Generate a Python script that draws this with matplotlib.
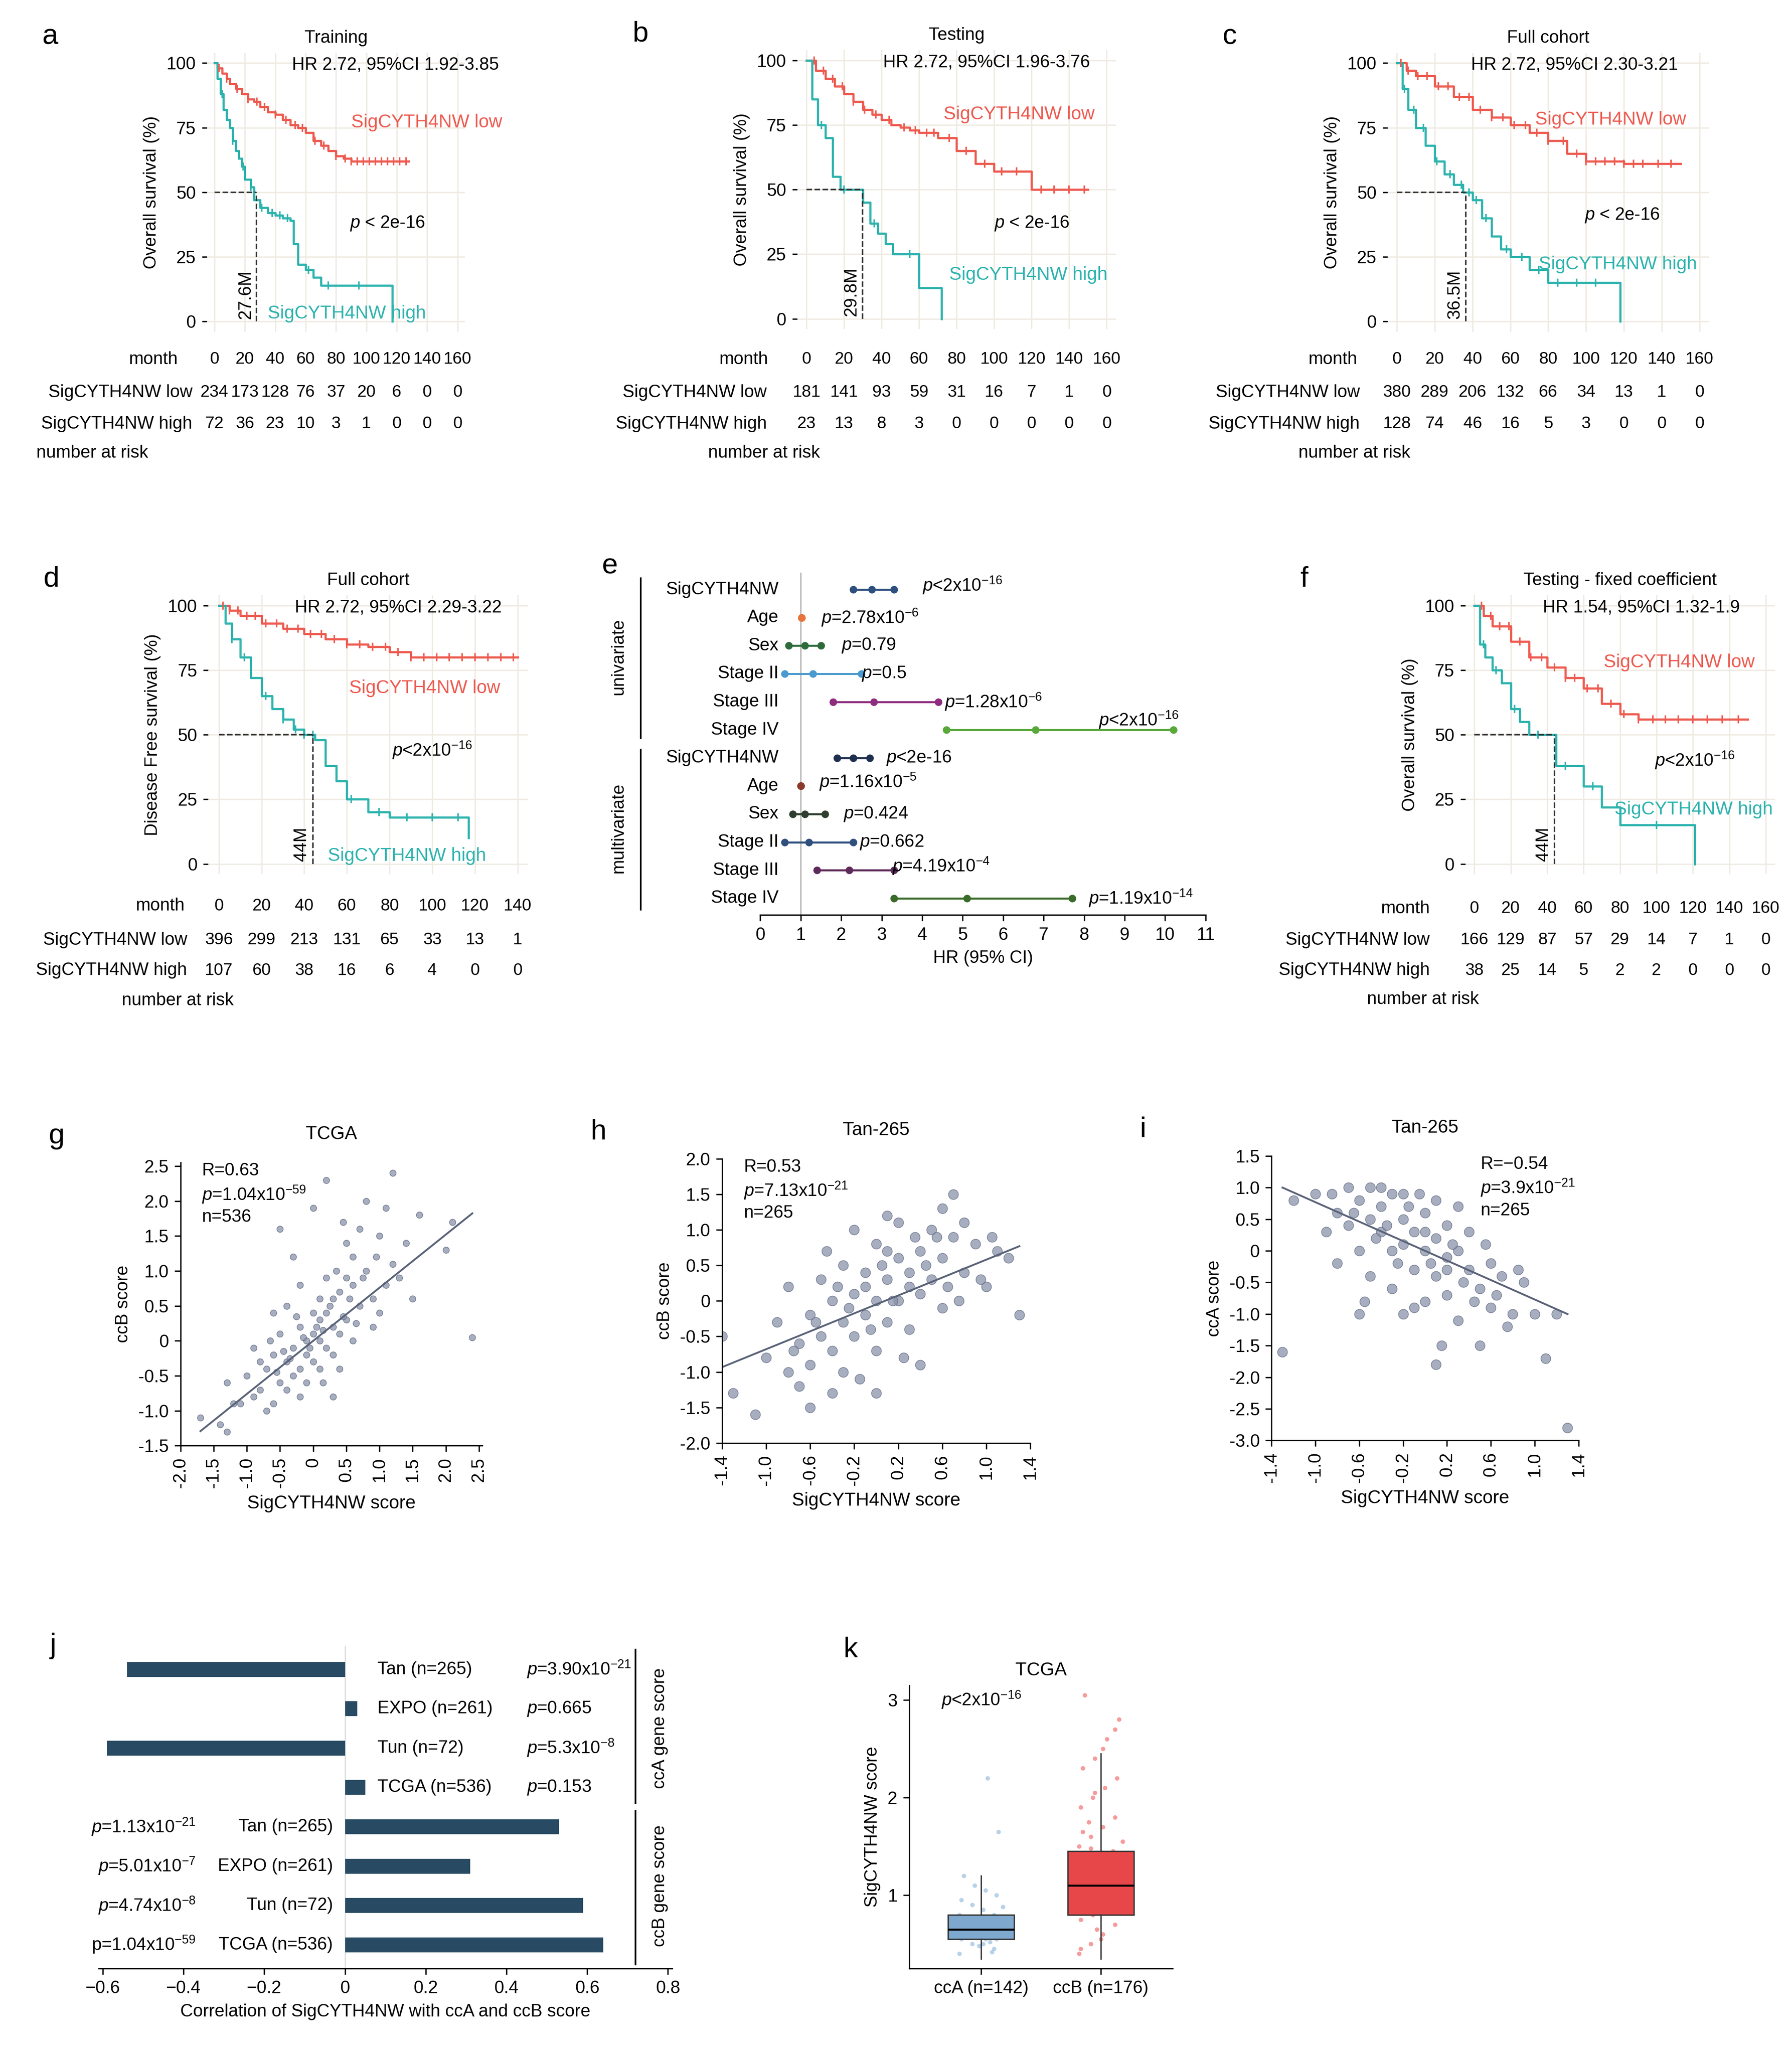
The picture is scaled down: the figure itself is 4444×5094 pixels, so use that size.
import numpy as np
import matplotlib
matplotlib.use('Agg')
import matplotlib.pyplot as plt
from matplotlib.transforms import blended_transform_factory as btf

plt.rcParams['font.family'] = ['Arial', 'Liberation Sans', 'DejaVu Sans']
plt.rcParams['mathtext.fontset'] = 'custom'
plt.rcParams['mathtext.it'] = 'Liberation Sans:italic'
plt.rcParams['mathtext.rm'] = 'Liberation Sans'

W, H = 1360.0, 1560.0
fig = plt.figure(figsize=(4444/300, 5094/300), dpi=300)
RED = '#EE5A4F'; TEAL = '#2DB3AE'; FS = 10.5

def add_ax(x0, y0, x1, y1):
    return fig.add_axes([x0/W, 1-y1/H, (x1-x0)/W, (y1-y0)/H])

def ftext(x, y, s, **kw):
    fig.text(x/W, 1-y/H, s, **kw)

# ---------------- KM data ----------------
months_a = [0, 20, 40, 60, 80, 100, 120, 140, 160]
a_low_t = [0,2,5,8,10,14,18,22,26,30,35,40,45,50,55,60,65,70,75,80,85,90,95,128]
a_low_s = [100,98,96,94,92,90,88,86,85,83,81,80,78,76,75,73,70,68,66,64,63,62,62,62]
a_high_t = [0,2,4,6,8,10,12,14,16,18,20,24,26,30,35,40,45,50,52,55,60,65,70,117,117]
a_high_s = [100,94,88,82,78,75,70,66,63,60,55,52,47,44,42,41,40,39,30,22,20,17,14,14,0]
a_low_c = [3,8,15,22,28,33,40,47,53,58,66,72,80,86,90,94,98,102,106,110,114,118,122,126]
a_high_c = [5,12,19,24,31,38,43,48,62,75,95]
a_risk_low = [234,173,128,76,37,20,6,0,0]
a_risk_high = [72,36,23,10,3,1,0,0,0]

b_low_t = [0,5,10,15,20,25,30,35,40,45,50,55,60,65,70,80,90,100,110,120,150]
b_low_s = [100,96,93,90,87,84,81,79,77,75,74,73,72,72,70,65,60,57,57,50,50]
b_high_t = [0,3,6,10,14,18,22,26,30,34,38,42,46,50,60,70,72]
b_high_s = [100,85,75,70,55,50,50,50,45,37,33,29,25,25,12,12,0]
b_low_c = [4,9,14,19,25,31,37,44,52,58,64,68,76,85,95,104,112,125,132,140,148]
b_high_c = [8,20,36,55]
b_risk_low = [181,141,93,59,31,16,7,1,0]
b_risk_high = [23,13,8,3,0,0,0,0,0]

c_low_t = [0,5,10,20,30,40,50,60,70,80,90,100,120,150]
c_low_s = [100,97,95,91,87,82,79,76,73,70,65,62,61,61]
c_high_t = [0,3,6,10,15,20,25,30,35,40,45,50,55,60,70,80,90,117,118]
c_high_s = [100,90,82,75,68,62,57,53,50,47,40,33,28,25,20,15,15,15,0]
c_low_c = [2,6,11,16,22,27,33,38,44,50,56,62,68,74,80,88,95,100,105,110,115,120,125,130,138,145]
c_high_c = [4,9,14,21,28,34,38,42,47,58,66,75,85,95,105]
c_risk_low = [380,289,206,132,66,34,13,1,0]
c_risk_high = [128,74,46,16,5,3,0,0,0]

months_d = [0, 20, 40, 60, 80, 100, 120, 140]
d_low_t = [0,5,10,20,30,40,50,60,70,80,90,100,110,140]
d_low_s = [100,98,96,93,91,89,87,85,84,82,80,80,80,80]
d_high_t = [0,3,6,10,15,20,25,30,35,40,45,50,55,60,70,80,90,115,117]
d_high_s = [100,93,87,80,72,65,60,56,52,50,48,38,32,25,20,18,18,18,10]
d_low_c = [2,5,9,13,17,22,27,32,37,43,48,54,60,66,72,78,84,90,96,102,108,114,120,126,132,138]
d_high_c = [6,12,22,30,36,40,44,62,75,88,100,112]
d_risk_low = [396,299,213,131,65,33,13,1]
d_risk_high = [107,60,38,16,6,4,0,0]

f_low_t = [0,5,10,20,30,40,50,60,70,80,90,100,150]
f_low_s = [100,96,92,86,80,76,72,68,62,58,56,56,56]
f_high_t = [0,3,6,10,15,20,25,30,40,45,55,60,70,80,95,120,121]
f_high_s = [100,85,80,75,70,60,55,50,50,38,38,30,22,15,15,15,0]
f_low_c = [4,9,14,19,25,31,37,44,50,55,62,68,75,82,90,98,105,112,120,128,136,145]
f_high_c = [5,12,22,35,50,65,100]
f_risk_low = [166,129,87,57,29,14,7,1,0]
f_risk_high = [38,25,14,5,2,2,0,0,0]

def step_y(ts, ss, t):
    idx = np.searchsorted(ts, t, side='right') - 1
    return ss[max(idx, 0)]

def km_panel(box, months, lt, ls, ht, hs, lc, hc, rl, rh, title, hr, hrx, ptxt, ppos,
             lowpos, highpos, med, medlabel, ylabel, letter, rowx, rowy):
    ax = add_ax(*box)
    ax.set_facecolor('white')
    ax.grid(True, color='#EFEBE2', lw=0.8)
    for s in ax.spines.values(): s.set_visible(False)
    ax.step(lt, ls, where='post', color=RED, lw=1.3)
    ax.step(ht, hs, where='post', color=TEAL, lw=1.3)
    ax.plot(lc, [step_y(lt, ls, c) for c in lc], '|', color=RED, ms=5, mew=0.9)
    ax.plot(hc, [step_y(ht, hs, c) for c in hc], '|', color=TEAL, ms=5, mew=0.9)
    ax.set_xlim(months[0]-5, months[-1]+5)
    ax.set_ylim(-4, 104)
    ax.set_yticks([0,25,50,75,100])
    ax.set_xticks(months)
    ax.set_xticklabels([])
    ax.tick_params(axis='x', length=0)
    ax.tick_params(axis='y', labelsize=FS, length=3)
    ax.set_ylabel(ylabel, fontsize=FS)
    ax.set_title(title, fontsize=FS, pad=6)
    ax.plot([0, med], [50, 50], ls='--', color='#333333', lw=0.9)
    ax.plot([med, med], [0, 50], ls='--', color='#333333', lw=0.9)
    ax.text(med-1.5, 1, medlabel, rotation=90, ha='right', va='bottom', fontsize=FS)
    ax.text(hrx, 0.985, hr, transform=ax.transAxes, fontsize=FS, va='top')
    ax.text(*lowpos, 'SigCYTH4NW low', color=RED, fontsize=FS+0.5, va='center')
    ax.text(*highpos, 'SigCYTH4NW high', color=TEAL, fontsize=FS+0.5, va='center')
    ax.text(*ppos, ptxt, fontsize=FS, va='center')
    tr = btf(ax.transData, fig.transFigure)
    y0, y1, y2, y3 = rowy
    for m, a, b in zip(months, rl, rh):
        ax.text(m, 1-y0/H, str(m), transform=tr, ha='center', va='center', fontsize=FS-0.5)
        ax.text(m, 1-y1/H, str(a), transform=tr, ha='center', va='center', fontsize=FS-0.5)
        ax.text(m, 1-y2/H, str(b), transform=tr, ha='center', va='center', fontsize=FS-0.5)
    ftext(rowx[0], y0, 'month', ha='right', va='center', fontsize=FS)
    ftext(rowx[1], y1, 'SigCYTH4NW low', ha='right', va='center', fontsize=FS)
    ftext(rowx[1], y2, 'SigCYTH4NW high', ha='right', va='center', fontsize=FS)
    ftext(rowx[2], y3, 'number at risk', ha='center', va='center', fontsize=FS)
    ftext(box[0]-125, box[1]-12, letter, fontsize=17, va='center')
    return ax

P16 = r'$p$ < 2e-16'
km_panel((157, 40, 353, 252), months_a, a_low_t, a_low_s, a_high_t, a_high_s, a_low_c, a_high_c,
         a_risk_low, a_risk_high, 'Training', 'HR 2.72, 95%CI 1.92-3.85', 0.33, P16, (89, 38),
         (90, 77), (35, 3), 27.6, '27.6M', 'Overall survival (%)', 'a', (135, 146, 70), (273, 298, 322, 344))
km_panel((605, 38, 847, 250), months_a, b_low_t, b_low_s, b_high_t, b_high_s, b_low_c, b_high_c,
         b_risk_low, b_risk_high, 'Testing', 'HR 2.72, 95%CI 1.96-3.76', 0.27, P16, (100, 37),
         (73, 79), (76, 17), 29.8, '29.8M', 'Overall survival (%)', 'b', (583, 582, 580), (273, 298, 322, 344))
km_panel((1053, 40, 1297, 252), months_a, c_low_t, c_low_s, c_high_t, c_high_s, c_low_c, c_high_c,
         c_risk_low, c_risk_high, 'Full cohort', 'HR 2.72, 95%CI 2.30-3.21', 0.26, P16, (99, 41),
         (73, 78), (75, 22), 36.5, '36.5M', 'Overall survival (%)', 'c', (1030, 1032, 1028), (273, 298, 322, 344))
km_panel((158, 452, 401, 664), months_d, d_low_t, d_low_s, d_high_t, d_high_s, d_low_c, d_high_c,
         d_risk_low, d_risk_high, 'Full cohort', 'HR 2.72, 95%CI 2.29-3.22', 0.27, r'$p$<2x10$^{-16}$', (81, 44),
         (61, 68), (51, 3), 44, '44M', 'Disease Free survival (%)', 'd', (140, 142, 135), (688, 714, 737, 760))
km_panel((1112, 452, 1347, 664), months_a, f_low_t, f_low_s, f_high_t, f_high_s, f_low_c, f_high_c,
         f_risk_low, f_risk_high, 'Testing - fixed coefficient', 'HR 1.54, 95%CI 1.32-1.9', 0.25, r'$p$<2x10$^{-16}$', (99, 40),
         (71, 78), (77, 21), 44, '44M', 'Overall survival (%)', 'f', (1085, 1085, 1080), (690, 714, 737, 759))

# ---------------- Forest plot e ----------------
e_labels = ['SigCYTH4NW','Age','Sex','Stage II','Stage III','Stage IV',
            'SigCYTH4NW','Age','Sex','Stage II','Stage III','Stage IV']
e_lo = [2.3, 1.02, 0.7, 0.6, 1.8, 4.6, 1.9, 1.0, 0.8, 0.6, 1.4, 3.3]
e_hr = [2.75, 1.02, 1.1, 1.3, 2.8, 6.8, 2.3, 1.0, 1.1, 1.2, 2.2, 5.1]
e_hi = [3.3, 1.02, 1.5, 2.5, 4.4, 10.2, 2.7, 1.0, 1.6, 2.3, 3.3, 7.7]
e_col = ['#2F4F7F','#E8743B','#2E6B3A','#4A9AD0','#8E2C7E','#58A83A',
         '#1F2F4F','#8B3A2A','#2F3F2F','#2F4F7F','#5E2A5A','#3A6B2A']
e_p = [r'$p$<2x10$^{-16}$', r'$p$=2.78x10$^{-6}$', r'$p$=0.79', r'$p$=0.5', r'$p$=1.28x10$^{-6}$', r'$p$<2x10$^{-16}$',
       r'$p$<2e-16', r'$p$=1.16x10$^{-5}$', r'$p$=0.424', r'$p$=0.662', r'$p$=4.19x10$^{-4}$', r'$p$=1.19x10$^{-14}$']
e_px = [4.0, 1.5, 2.0, 2.5, 4.55, 8.35, 3.1, 1.45, 2.05, 2.45, 3.25, 8.1]
e_py = [0.15, 0, 0, 0, 0, 0.35, 0, 0.15, 0, 0, 0.15, 0]
ax = add_ax(577, 435, 915, 695)
for s in ['top','right','left']: ax.spines[s].set_visible(False)
ax.axvline(1, color='#BBBBBB', lw=0.9)
for i in range(12):
    ax.plot([e_lo[i], e_hi[i]], [i, i], color=e_col[i], lw=1.2)
    ax.plot([e_lo[i], e_hr[i], e_hi[i]], [i, i, i], 'o', color=e_col[i], ms=3.5)
    ax.text(0.45, i, e_labels[i], ha='right', va='center', fontsize=FS)
    ax.text(e_px[i], i - e_py[i], e_p[i], ha='left', va='center', fontsize=FS)
ax.set_ylim(11.6, -0.6)
ax.set_xlim(0, 11)
ax.set_yticks([])
ax.set_xticks(range(12))
ax.tick_params(labelsize=FS)
ax.set_xlabel('HR (95% CI)', fontsize=FS)
ax.plot([-2.95, -2.95], [-0.4, 5.3], color='k', lw=1, clip_on=False)
ax.plot([-2.95, -2.95], [5.7, 11.4], color='k', lw=1, clip_on=False)
ax.text(-3.5, 2.4, 'univariate', rotation=90, ha='center', va='center', fontsize=FS)
ax.text(-3.5, 8.5, 'multivariate', rotation=90, ha='center', va='center', fontsize=FS)
ftext(457, 430, 'e', fontsize=17, va='center')

# ---------------- Scatter panels ----------------
g_pts = [(-1.7,-1.1),(-1.4,-1.2),(-1.3,-0.6),(-1.2,-0.9),(-1.0,-0.5),(-0.9,-0.8),(-0.8,-0.3),(-0.8,-0.7),
         (-0.7,-0.4),(-0.6,-0.2),(-0.6,-0.9),(-0.5,0.1),(-0.5,-0.6),(-0.4,-0.3),(-0.4,0.5),(-0.3,-0.1),
         (-0.3,-0.5),(-0.2,0.2),(-0.2,-0.4),(-0.1,0.0),(-0.1,-0.2),(0.0,0.1),(0.0,-0.3),(0.1,0.3),(0.1,0.0),
         (0.2,0.4),(0.2,-0.1),(0.3,0.6),(0.3,0.2),(0.4,0.7),(0.4,0.1),(0.5,0.9),(0.5,0.3),(0.6,1.2),(0.7,0.5),
         (0.8,1.0),(0.9,0.6),(1.0,1.5),(1.1,0.8),(1.2,1.1),(1.4,1.4),(1.6,1.8),(2.0,1.3),(2.4,0.05),
         (-0.5,1.6),(0.0,1.9),(0.2,2.3),(0.6,0.8),(-0.3,1.2),(0.8,2.0),(0.1,0.6),(-0.6,0.4),(0.4,-0.4),
         (1.5,0.6),(-1.1,-0.9),(0.3,-0.8),(-0.2,0.8),(0.9,0.2),(0.5,1.4),(2.1,1.7),(-0.7,-1.0),(-0.4,-0.7),
         (-0.1,-0.6),(0.0,0.4),(0.1,-0.4),(0.2,0.9),(0.3,-0.2),(0.6,0.0),(0.7,1.6),(1.0,0.4),(1.2,2.4),
         (-0.9,-0.1),(-0.2,-0.8),(0.05,0.2),(-0.05,-0.1),(0.15,0.15),(-0.15,0.05),(0.25,0.5),(-0.35,-0.25),
         (0.45,0.35),(-0.45,-0.15),(0.55,0.6),(-0.55,-0.45),(0.65,0.25),(0.35,1.0),(-0.25,0.35),(0.75,0.9),
         (1.3,0.9),(0.95,1.2),(-1.3,-1.3),(-0.65,0.0),(0.15,-0.6),(1.1,1.9),(0.45,1.7)]
h_pts = [(-1.3,-1.3),(-1.1,-1.6),(-1.0,-0.8),(-0.9,-0.3),(-0.8,-1.0),(-0.7,-0.6),(-0.7,-1.2),(-0.6,-0.2),
         (-0.6,-0.9),(-0.5,-0.5),(-0.5,0.3),(-0.4,-0.7),(-0.4,0.0),(-0.3,-0.3),(-0.3,0.5),(-0.3,-1.0),
         (-0.2,0.1),(-0.2,-0.5),(-0.1,0.4),(-0.1,-0.2),(0.0,0.0),(0.0,0.8),(0.0,-0.7),(0.1,0.3),(0.1,-0.3),
         (0.2,0.6),(0.2,0.0),(0.2,1.1),(0.3,0.4),(0.3,-0.4),(0.4,0.7),(0.4,0.1),(0.5,1.0),(0.5,0.3),
         (0.6,0.6),(0.6,-0.1),(0.7,0.9),(0.7,1.5),(0.8,0.4),(0.9,0.8),(1.0,0.2),(1.1,0.7),(1.2,0.6),
         (1.3,-0.2),(-1.4,-0.5),(-0.8,0.2),(-0.2,1.0),(0.1,1.2),(0.4,-0.9),(-0.6,-1.5),(0.8,1.1),(-0.45,0.7),
         (-0.15,-1.1),(0.25,-0.8),(0.55,0.9),(-0.35,0.2),(0.05,0.5),(0.35,0.9),(-0.05,-0.4),(0.15,0.0),
         (0.65,0.2),(-0.55,-0.3),(0.45,0.5),(-0.25,-0.1),(0.95,0.3),(1.05,0.9),(0.75,0.0),(-0.75,-0.7),
         (0.3,0.2),(0.1,0.7),(-0.1,0.2),(0.6,1.3),(-0.4,-1.3),(0.0,-1.3)]
i_pts = [(-1.3,-1.6),(-1.2,0.8),(-1.0,0.9),(-0.9,0.3),(-0.8,0.6),(-0.8,-0.2),(-0.7,1.0),(-0.7,0.4),
         (-0.6,0.8),(-0.6,0.0),(-0.5,0.5),(-0.5,1.0),(-0.5,-0.4),(-0.4,0.3),(-0.4,0.7),(-0.3,0.9),
         (-0.3,0.0),(-0.3,-0.6),(-0.2,0.5),(-0.2,0.1),(-0.2,-1.0),(-0.1,0.3),(-0.1,-0.3),(0.0,0.6),
         (0.0,0.0),(0.0,-0.8),(0.1,0.2),(0.1,-0.4),(0.1,0.8),(0.2,-0.1),(0.2,-0.7),(0.2,0.4),(0.3,0.0),
         (0.3,-1.1),(0.4,-0.3),(0.4,0.3),(0.5,-0.6),(0.5,-1.5),(0.6,-0.2),(0.6,-0.9),(0.7,-0.4),(0.8,-1.0),
         (0.9,-0.5),(1.0,-1.0),(1.1,-1.7),(1.2,-1.0),(1.3,-2.8),(-0.6,-1.0),(-0.2,0.9),(0.3,0.7),
         (-0.45,0.2),(-0.15,0.7),(0.05,-0.2),(0.25,0.1),(0.15,-1.5),(-0.35,0.4),(0.45,-0.8),(0.35,-0.5),
         (-0.05,0.9),(0.55,0.1),(-0.65,0.6),(0.65,-0.7),(0.0,0.3),(-0.25,-0.2),(0.75,-1.2),(-0.85,0.9),
         (0.1,-1.8),(-0.55,-0.8),(0.85,-0.3),(-0.1,-0.9),(0.2,-0.3),(-0.4,1.0)]

def scatter_panel(box, pts, slope, icpt, xl, yl, xt, yt, xlim, ylim, title, stats, sx, letter, big):
    ax = add_ax(*box)
    for s in ['top','right']: ax.spines[s].set_visible(False)
    x = np.array([p[0] for p in pts]); y = np.array([p[1] for p in pts])
    ax.scatter(x, y, s=34 if big else 14, color='#8A93AA', edgecolor='#5E6780', lw=0.4, alpha=0.75)
    xs = np.array([x.min(), x.max()])
    ax.plot(xs, slope*xs + icpt, color='#5A6378', lw=1.1)
    ax.set_xlim(*xlim); ax.set_ylim(*ylim)
    ax.set_xticks(xt); ax.set_yticks(yt)
    ax.set_xticklabels([f'{v:.1f}' if v != 0 else '0' for v in xt], rotation=90)
    ax.set_yticklabels([f'{v:.1f}' if v != 0 else '0' for v in yt])
    ax.tick_params(labelsize=FS)
    ax.set_xlabel(xl, fontsize=FS+0.5); ax.set_ylabel(yl, fontsize=FS)
    ax.set_title(title, fontsize=FS+0.5, pad=14)
    ax.text(sx, 1.0, stats, transform=ax.transAxes, va='top', fontsize=FS, linespacing=1.3)
    ftext(box[0]-100, box[1]-20, letter, fontsize=17, va='center')

scatter_panel((137, 883, 366, 1098), g_pts, 0.76, 0.0, 'SigCYTH4NW score', 'ccB score',
              [-2.0,-1.5,-1.0,-0.5,0,0.5,1.0,1.5,2.0,2.5], [-1.5,-1.0,-0.5,0,0.5,1.0,1.5,2.0,2.5],
              (-2.0, 2.55), (-1.5, 2.55), 'TCGA', 'R=0.63\n$p$=1.04x10$^{-59}$\nn=536', 0.07, 'g', False)
scatter_panel((548, 880, 782, 1096), h_pts, 0.63, -0.05, 'SigCYTH4NW score', 'ccB score',
              [-1.4,-1.0,-0.6,-0.2,0.2,0.6,1.0,1.4], [-2.0,-1.5,-1.0,-0.5,0,0.5,1.0,1.5,2.0],
              (-1.4, 1.4), (-2.0, 2.0), 'Tan-265', 'R=0.53\n$p$=7.13x10$^{-21}$\nn=265', 0.07, 'h', True)
scatter_panel((965, 878, 1198, 1094), i_pts, -0.77, 0.0, 'SigCYTH4NW score', 'ccA score',
              [-1.4,-1.0,-0.6,-0.2,0.2,0.6,1.0,1.4], [-3.0,-2.5,-2.0,-1.5,-1.0,-0.5,0,0.5,1.0,1.5],
              (-1.4, 1.4), (-3.0, 1.5), 'Tan-265', 'R=\u22120.54\n$p$=3.9x10$^{-21}$\nn=265', 0.68, 'i', True)

# ---------------- Bar panel j ----------------
j_labels = ['Tan (n=265)','EXPO (n=261)','Tun (n=72)','TCGA (n=536)',
            'Tan (n=265)','EXPO (n=261)','Tun (n=72)','TCGA (n=536)']
j_vals = [-0.54, 0.03, -0.59, 0.05, 0.53, 0.31, 0.59, 0.64]
j_p = [r'$p$=3.90x10$^{-21}$', r'$p$=0.665', r'$p$=5.3x10$^{-8}$', r'$p$=0.153',
       r'$p$=1.13x10$^{-21}$', r'$p$=5.01x10$^{-7}$', r'$p$=4.74x10$^{-8}$', r'p=1.04x10$^{-59}$']
ax = add_ax(75, 1250, 510, 1495)
for s in ['top','right','left']: ax.spines[s].set_visible(False)
ax.barh(range(8), j_vals, height=0.38, color='#284B63')
ax.axvline(0, color='#DDDDDD', lw=0.8, zorder=0)
for i in range(8):
    if i < 4:
        ax.text(0.08, i, j_labels[i], ha='left', va='center', fontsize=FS)
        ax.text(0.45, i, j_p[i], ha='left', va='center', fontsize=FS)
    else:
        ax.text(-0.03, i, j_labels[i], ha='right', va='center', fontsize=FS)
        ax.text(-0.37, i, j_p[i], ha='right', va='center', fontsize=FS)
ax.set_ylim(7.6, -0.6)
ax.set_xlim(-0.61, 0.81)
ax.set_yticks([])
ax.set_xticks([-0.6,-0.4,-0.2,0,0.2,0.4,0.6,0.8])
ax.set_xticklabels(['\u22120.6','\u22120.4','\u22120.2','0','0.2','0.4','0.6','0.8'])
ax.tick_params(labelsize=FS)
ax.set_xlabel('Correlation of SigCYTH4NW with ccA and ccB score', fontsize=FS)
ax.plot([0.72, 0.72], [-0.5, 3.4], color='k', lw=1, clip_on=False)
ax.plot([0.72, 0.72], [3.6, 7.5], color='k', lw=1, clip_on=False)
ax.text(0.78, 1.5, 'ccA gene score', rotation=90, ha='center', va='center', fontsize=FS)
ax.text(0.78, 5.5, 'ccB gene score', rotation=90, ha='center', va='center', fontsize=FS)
ftext(38, 1250, 'j', fontsize=17, va='center')

# ---------------- Box panel k ----------------
k_stats = [dict(med=0.65, q1=0.55, q3=0.80, whislo=0.35, whishi=1.2, fliers=[], label='ccA (n=142)'),
           dict(med=1.10, q1=0.80, q3=1.45, whislo=0.35, whishi=2.45, fliers=[], label='ccB (n=176)')]
kA = [0.4,0.45,0.5,0.5,0.55,0.55,0.55,0.6,0.6,0.6,0.62,0.65,0.65,0.65,0.68,0.7,0.7,0.72,0.75,0.75,
      0.78,0.8,0.8,0.85,0.9,0.95,1.0,1.05,1.1,1.2,1.65,2.2,0.58,0.63,0.67,0.52,0.48,0.73,0.88,0.42]
kB = [0.4,0.5,0.6,0.7,0.75,0.8,0.85,0.9,0.95,1.0,1.0,1.05,1.05,1.1,1.1,1.15,1.2,1.2,1.25,1.3,1.35,
      1.4,1.45,1.5,1.6,1.7,1.8,1.9,2.0,2.1,2.2,2.3,2.4,2.6,2.8,3.05,0.65,0.88,0.98,1.12,1.28,1.38,
      1.55,1.75,0.55,0.92,1.18,1.48,2.5,2.7,0.45,1.02,1.32,0.82,1.65,2.05]
kA_j = [((i*37) % 21 - 10)/55 for i in range(len(kA))]
kB_j = [((i*29) % 23 - 11)/60 for i in range(len(kB))]
ax = add_ax(690, 1280, 890, 1495)
for s in ['top','right']: ax.spines[s].set_visible(False)
bp = ax.bxp(k_stats, positions=[1, 2], widths=0.55, patch_artist=True, showfliers=False)
for patch, c in zip(bp['boxes'], ['#7FA8CF', '#E8474A']):
    patch.set_facecolor(c); patch.set_edgecolor('#333333'); patch.set_linewidth(0.8)
for m in bp['medians']: m.set_color('black'); m.set_linewidth(1.2)
for w in bp['whiskers']: w.set_color('#333333'); w.set_linewidth(0.8)
for c in bp['caps']: c.set_visible(False)
ax.scatter(1 + np.array(kA_j), kA, s=7, color='#8AB4DA', alpha=0.6, lw=0)
ax.scatter(2 + np.array(kB_j), kB, s=7, color='#F05A5A', alpha=0.6, lw=0)
ax.set_xlim(0.4, 2.6); ax.set_ylim(0.25, 3.15)
ax.set_yticks([1, 2, 3])
ax.tick_params(labelsize=FS)
ax.set_ylabel('SigCYTH4NW score', fontsize=FS)
ax.set_title('TCGA', fontsize=FS+0.5)
ax.text(1.0, 3.0, r'$p$<2x10$^{-16}$', fontsize=FS, ha='center', va='center')
ftext(640, 1253, 'k', fontsize=17, va='center')

fig.savefig('out.png', dpi=300, facecolor='white')
